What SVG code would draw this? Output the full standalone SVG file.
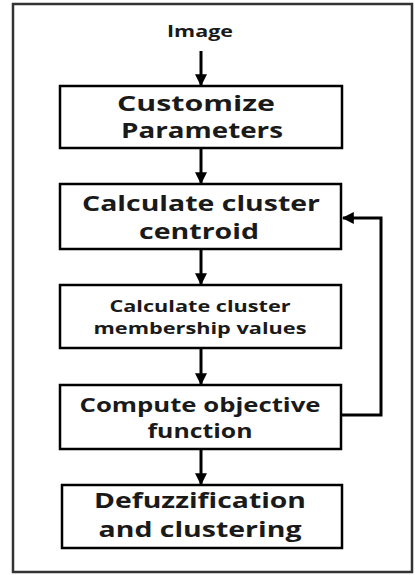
<svg xmlns="http://www.w3.org/2000/svg" width="415" height="575" viewBox="0 0 415 575">
<style>
.box{fill:#fff;stroke:#000;stroke-width:2.5}
.t{font-family:"Open Sans","Liberation Sans",sans-serif;font-weight:bold;fill:#1a1a1a;text-anchor:middle}
.c{fill:none;stroke:#000;stroke-width:3}
</style>
<defs>
<marker id="ah" viewBox="0 0 10 10" refX="9" refY="5" markerWidth="4" markerHeight="4" markerUnits="strokeWidth" orient="auto">
<path d="M0,0 L10,5 L0,10 Z" fill="#000"/>
</marker>
</defs>
<rect x="13" y="4" width="399" height="568" fill="#fff" stroke="#333" stroke-width="2.5"/>
<text class="t" x="200" y="37" font-size="16" textLength="66" lengthAdjust="spacingAndGlyphs">Image</text>
<g id="n1">
<rect class="box" x="60" y="86" width="282" height="62"/>
<text class="t" x="196" y="111" font-size="21" textLength="158" lengthAdjust="spacingAndGlyphs">Customize</text>
<text class="t" x="202" y="138" font-size="21" textLength="162" lengthAdjust="spacingAndGlyphs">Parameters</text>
</g>
<g id="n2">
<rect class="box" x="60" y="184" width="281" height="65"/>
<text class="t" x="201" y="211" font-size="21" textLength="238" lengthAdjust="spacingAndGlyphs">Calculate cluster</text>
<text class="t" x="199" y="239" font-size="21" textLength="120" lengthAdjust="spacingAndGlyphs">centroid</text>
</g>
<g id="n3">
<rect class="box" x="60" y="285" width="281" height="63"/>
<text class="t" x="200" y="312" font-size="16" textLength="181" lengthAdjust="spacingAndGlyphs">Calculate cluster</text>
<text class="t" x="200" y="334" font-size="16" textLength="213" lengthAdjust="spacingAndGlyphs">membership values</text>
</g>
<g id="n4">
<rect class="box" x="60" y="385" width="281" height="64"/>
<text class="t" x="200" y="412" font-size="19" textLength="241" lengthAdjust="spacingAndGlyphs">Compute objective</text>
<text class="t" x="200" y="438" font-size="19" textLength="105" lengthAdjust="spacingAndGlyphs">function</text>
</g>
<g id="n5">
<rect class="box" x="62" y="485" width="280" height="63"/>
<text class="t" x="200" y="508" font-size="21" textLength="212" lengthAdjust="spacingAndGlyphs">Defuzzification</text>
<text class="t" x="200" y="537" font-size="21" textLength="203" lengthAdjust="spacingAndGlyphs">and clustering</text>
</g>
<g id="connectors">
<line class="c" x1="201" y1="51" x2="201" y2="85" marker-end="url(#ah)"/>
<line class="c" x1="201" y1="149" x2="201" y2="183" marker-end="url(#ah)"/>
<line class="c" x1="201" y1="250" x2="201" y2="284" marker-end="url(#ah)"/>
<line class="c" x1="201" y1="349" x2="201" y2="384" marker-end="url(#ah)"/>
<line class="c" x1="201" y1="450" x2="201" y2="484" marker-end="url(#ah)"/>
<polyline class="c" points="342,415 381,415 381,218 343,218" marker-end="url(#ah)"/>
</g>
</svg>
